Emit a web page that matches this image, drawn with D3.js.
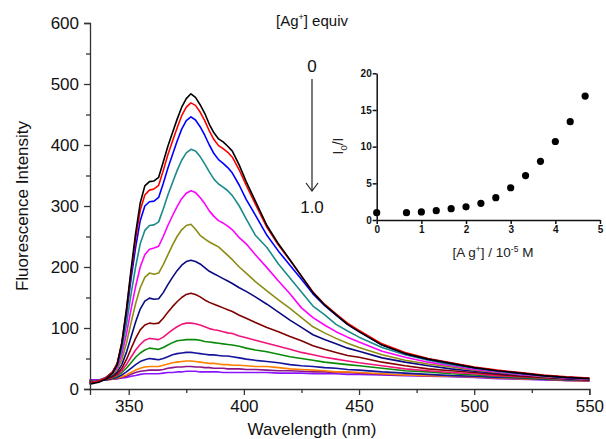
<!DOCTYPE html>
<html><head><meta charset="utf-8">
<script src="https://cdn.jsdelivr.net/npm/d3@7"></script>
<style>
html,body{margin:0;padding:0;background:#fff;}
svg{display:block;font-family:"Liberation Sans",Arial,sans-serif;}
</style></head>
<body>
<svg id="chart" width="606" height="439"></svg>
<script>
// ---------- DATA ----------
const wavelength = [333,337,340,343,345,347,349,351,353,355,357,359,361,363,365,367,369,371,373,375,377,379,381,383,385,387,389,391,393,395,398,401,405,410,415,420,425,430,435,440,445,450,460,470,480,490,500,510,520,530,540,550];

const eq000 = [8,11,16,26,40,75,130,195,255,305,333,340,341,347,372,398,420,442,462,476,484,478,466,452,434,420,410,405,398,390,367,340,308,268,238,212,185,158,138,122,106,94,72,58,49,42,35,30,26,22,19,17];
const eq008 = [10,13,18,28,42,76,128,190,246,293,318,326,328,334,358,384,406,428,448,462,469,465,454,440,423,409,399,394,388,380,359,334,303,265,236,211,185,159,139,123,108,96,74,60,50,43,36,31,27,23,20,18];
const eq015 = [10,13,18,28,41,73,122,180,232,276,300,307,308,314,337,362,384,406,426,440,446,441,430,416,400,386,376,370,363,354,334,311,285,252,226,203,180,156,137,121,106,94,72,58,49,42,35,30,26,22,19,17.5];
const eq023 = [11,14,19,27,38,64,105,155,200,238,260,268,269,274,295,318,338,358,375,387,393,390,381,369,356,344,336,331,325,317,300,279,252,232,205,182,159,136,122,106,95,85,68,56,47,40,34,29,25,22,19,17];
const eq031 = [11,14,19,26,35,56,90,130,168,200,220,229,231,234,250,268,284,299,312,321,325,322,314,304,292,283,276,272,267,261,248,238,220,199,177,156,133,117,105,94,85,77,62,52,44,38,32,28,24,21,18,16];
const eq038 = [12,14,18,24,32,48,75,108,140,166,183,190,188,190,204,220,236,250,261,268,270,262,252,246,241,237,233,226,219,212,200,190,176,161,146,132,117,102,92,83,75,68,56,47,41,36,31,27,24,20,18,16];
const eq046 = [12,14,17,22,28,40,60,85,110,131,144,149,147,148,158,171,183,194,203,209,211,209,205,199,193,189,185,181,177,173,166,160,151,139,126,113,101,89,81,74,67,62,51,44,38,33,29,26,23,20,17,15.5];
const eq054 = [12,14,16,20,25,34,48,66,83,97,105,108,107,108,116,126,135,143,150,155,157,155,151,146,142,139,136,133,130,127,121,116,109,101,94,86,79,71,65,60,55,52,44,38,33,30,27,24,21,19,17,15];
const eq062 = [13,14,16,19,23,30,40,52,64,73,80,83,82,81,85,91,97,102,106,108,108,107,105,102,99,97,96,94,92,91,87,84,80,75,70,65,60,56,52,49,46,43,38,33,30,27,25,22,20,18,16,15];
const eq069 = [13,14,16,18,21,27,34,43,52,59,64,67,66,65,68,72,76,79,80,81,81,81,80,78,77,76,75,74,73,72,70,67,64,61,57,53,50,47,44,42,40,38,34,30,28,25,23,21,19,17,15.5,14.5];
const eq077 = [13,14,15,17,19,23,28,34,40,45,48,50,49,48,50,53,56,58,59,60,60,59,58,57,56,56,55,54,54,53,51,49,47,45,43,40,38,37,35,34,32,31,28,26,24,22,21,19,18,16,15,14];
const eq085 = [13,14,15,16,18,20,23,27,31,34,36,37,37,37,39,41,43,44,45,46,46,45,44,43,42,42,41,40,40,39,39,38,37,37,35,33,32,31,30,28,28,27,25,23,22,21,20,18,17,16,14,13.5];
const eq092 = [14,14,15,16,17,19,21,24,27,29,30,31,31,31,32,34,35,36,36,37,37,36,36,35,35,34,34,34,33,33,33,32,32,31,30,30,29,28,28,27,27,26,24,23,22,21,20,18,17,16,14,13];
const eq100 = [15,15,16,16,17,18,19,21,22,24,25,25,25,25,26,27,27,28,28,29,29,29,28,28,28,28,28,27,27,27,27,27,27,27,26,26,26,25,25,25,24,24,23,22,21,20,19,17,16,15,14,13];

const spectra = [eq000,eq008,eq015,eq023,eq031,eq038,eq046,eq054,eq062,eq069,eq077,eq085,eq092,eq100];
const lineColors = ["#000000","#ff0000","#0000ff","#1b8a8a","#ff00ff","#8c8c14","#0a0a80","#800000","#f0147a","#0a8a0a","#14149c","#ff8000","#8c148c","#8a14ff"];

const agConc = [0,0.667,1,1.333,1.667,2,2.333,2.667,3,3.333,3.667,4,4.333,4.667];
const ratioI0I = [1.0,1.0,1.1,1.27,1.55,1.8,2.27,3.05,4.4,6.05,8.0,10.7,13.4,16.9];

const xTicksMain = [350,400,450,500,550];
const xMinorMain = [375,425,475,525];
const yTicksMain = [0,100,200,300,400,500,600];
const yMinorMain = [50,150,250,350,450,550];
const xTicksInset = [0,1,2,3,4,5];
const yTicksInset = [0,5,10,15,20];

// ---------- DRAW ----------
const svg = d3.select("#chart");
const x = d3.scaleLinear().domain([333.2,550]).range([90,589.4]);
const y = d3.scaleLinear().domain([0,600]).range([389,23]);

const line = d3.line().x((d,i)=>x(wavelength[i])).y(d=>y(d));
const lines = svg.append("g");
spectra.slice().reverse().forEach((s,j)=>{
  const k = spectra.length-1-j;
  lines.append("path").datum(s).attr("d",line)
    .attr("fill","none").attr("stroke",lineColors[k]).attr("stroke-width",1.6)
    .attr("stroke-linejoin","round");
});

const axisColor = "#333";
function styleAxis(g, fs){
  g.select(".domain").attr("stroke",axisColor).attr("stroke-width",1.3);
  g.selectAll(".tick line").attr("stroke",axisColor).attr("stroke-width",1.3);
  g.selectAll(".tick text").attr("fill","#111").style("font-size",fs);
  g.attr("font-family",null);
}
const gx = svg.append("g").attr("transform","translate(0,389)")
  .call(d3.axisBottom(x).tickValues(xTicksMain).tickSize(6).tickPadding(5).tickFormat(d3.format("d")));
styleAxis(gx,"17px");
const gxm = svg.append("g").attr("transform","translate(0,389)")
  .call(d3.axisBottom(x).tickValues(xMinorMain).tickSize(4).tickFormat(""));
styleAxis(gxm,"17px"); gxm.select(".domain").remove();

const gy = svg.append("g").attr("transform","translate(90,0)")
  .call(d3.axisLeft(y).tickValues(yTicksMain).tickSize(6).tickPadding(5).tickFormat(d3.format("d")));
styleAxis(gy,"17px");
const gym = svg.append("g").attr("transform","translate(90,0)")
  .call(d3.axisLeft(y).tickValues(yMinorMain).tickSize(4).tickFormat(""));
styleAxis(gym,"17px"); gym.select(".domain").remove();

svg.append("text").attr("x",312).attr("y",435).attr("text-anchor","middle")
  .style("font-size","17px").attr("fill","#111").text("Wavelength (nm)");
svg.append("text").attr("transform","translate(28,206) rotate(-90)").attr("text-anchor","middle")
  .style("font-size","17px").attr("fill","#111").text("Fluorescence Intensity");

// Legend annotation
const ag = svg.append("text").attr("x",312).attr("y",26).attr("text-anchor","middle")
  .style("font-size","15px").attr("fill","#111");
ag.append("tspan").text("[Ag");
ag.append("tspan").attr("dy",-6).style("font-size","9px").text("+");
ag.append("tspan").attr("dy",6).text("] equiv");
svg.append("text").attr("x",312).attr("y",72).attr("text-anchor","middle")
  .style("font-size","17px").attr("fill","#111").text("0");
svg.append("text").attr("x",312).attr("y",213).attr("text-anchor","middle")
  .style("font-size","17px").attr("fill","#111").text("1.0");
svg.append("line").attr("x1",312).attr("x2",312).attr("y1",79).attr("y2",191)
  .attr("stroke","#222").attr("stroke-width",1.2);
svg.append("path").attr("d","M306,183 L312,191 L318,183").attr("fill","none")
  .attr("stroke","#222").attr("stroke-width",1.2);

// ---------- INSET ----------
const xi = d3.scaleLinear().domain([0,5]).range([376.7,600]);
const yi = d3.scaleLinear().domain([0,20]).range([220,73.3]);
const gxi = svg.append("g").attr("transform","translate(0,220)")
  .call(d3.axisBottom(xi).tickValues(xTicksInset).tickSize(4).tickPadding(2).tickSizeOuter(0).tickFormat(d3.format("d")));
const gyi = svg.append("g").attr("transform","translate(376.7,0)")
  .call(d3.axisLeft(yi).tickValues(yTicksInset).tickSize(4).tickPadding(1).tickSizeOuter(0).tickFormat(d3.format("d")));
[gxi,gyi].forEach(g=>{
  g.select(".domain").attr("stroke","#111").attr("stroke-width",1.5);
  g.selectAll(".tick line").attr("stroke","#111").attr("stroke-width",1.5);
  g.selectAll(".tick text").attr("fill","#111").style("font-size","10px").style("font-weight","bold");
  g.attr("font-family",null);
});
svg.append("g").selectAll("circle").data(agConc).join("circle")
  .attr("cx",d=>xi(d)).attr("cy",(d,i)=>yi(ratioI0I[i])).attr("r",3.6).attr("fill","#000");

const xl = svg.append("text").attr("x",493).attr("y",257).attr("text-anchor","middle")
  .style("font-size","13.5px").attr("fill","#222");
xl.append("tspan").text("[A g");
xl.append("tspan").attr("dy",-5).style("font-size","8.5px").text("+");
xl.append("tspan").attr("dy",5).text("] / 10");
xl.append("tspan").attr("dy",-5).style("font-size","8.5px").text("-5");
xl.append("tspan").attr("dy",5).text(" M");

const yl = svg.append("text").attr("transform","translate(343,146) rotate(-90)").attr("text-anchor","middle")
  .style("font-size","14px").attr("fill","#222");
yl.append("tspan").text("I");
yl.append("tspan").attr("dy",4).style("font-size","9.5px").text("0");
yl.append("tspan").attr("dy",-4).text("/I");
</script>
</body></html>
